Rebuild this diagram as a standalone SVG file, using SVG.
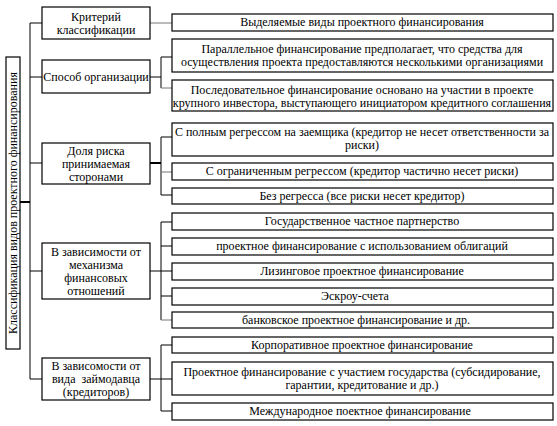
<svg xmlns="http://www.w3.org/2000/svg" width="557" height="426" viewBox="0 0 557 426">
<style>
.b{fill:#fff;stroke:#000;stroke-width:1.2}
.t{font-family:"Liberation Serif","Times New Roman",serif;font-size:12px;fill:#000}
.c{text-anchor:middle}
.l{fill:none;stroke:#000;stroke-width:1}
.g{fill:none;stroke:#777;stroke-width:1}
.k{fill:none;stroke:#000;stroke-width:2}
</style>
<rect width="557" height="426" fill="#fff"/>
<g id="connectors">
<path class="l" d="M30 23V379M30 23H42M30 77H42M30 163H42M30 271H42M30 379H42"/>
<path class="k" d="M19 202H30"/>
<path class="g" d="M150 23H172"/>
<path class="l" d="M150 77H161M161 57V88M161 57H172"/>
<path class="g" d="M161 88H172"/>
<path class="k" d="M150 163H161"/>
<path class="l" d="M161 137V195M161 137H172M161 195H172"/>
<path class="g" d="M161 172H172"/>
<path class="l" d="M150 271H172M161 222V320M161 222H172M161 246H172M161 296H172"/>
<path class="g" d="M161 320H172"/>
<path class="l" d="M150 379H172M161 345V411M161 345H172M161 411H172"/>
</g>
<g id="root"><rect class="b" x="6" y="57" width="14" height="292"/>
<text class="t c" transform="translate(17 203) rotate(-90)">Классификация видов проектного финансирования</text></g>
<g id="cat1"><rect class="b" x="42" y="7" width="108" height="32"/>
<text class="t c" x="96" y="20.5">Критерий</text><text class="t c" x="96" y="33.5">классификации</text></g>
<g id="cat2"><rect class="b" x="42" y="60" width="108" height="33"/>
<text class="t c" x="96" y="81">Способ организации</text></g>
<g id="cat3"><rect class="b" x="42" y="143" width="108" height="41"/>
<text class="t c" x="96" y="155">Доля риска</text><text class="t c" x="96" y="168">принимаемая</text><text class="t c" x="96" y="181">сторонами</text></g>
<g id="cat4"><rect class="b" x="42" y="243" width="108" height="56"/>
<text class="t c" x="96" y="255.5">В зависимости от</text><text class="t c" x="96" y="268.5">механизма</text><text class="t c" x="96" y="281.5">финансовых</text><text class="t c" x="96" y="294.5">отношений</text></g>
<g id="cat5"><rect class="b" x="42" y="358" width="108" height="42"/>
<text class="t c" x="96" y="370">В зависомости от</text><text class="t c" x="96" y="383" xml:space="preserve">вида  займодавца</text><text class="t c" x="96" y="396">(кредиторов)</text></g>
<g id="r1"><rect class="b" x="172" y="14" width="381" height="17"/>
<text class="t c" x="362" y="26">Выделяемые виды проектного финансирования</text></g>
<g id="r2"><rect class="b" x="172" y="39" width="381" height="33"/>
<text class="t c" x="362" y="53">Параллельное финансирование предполагает, что средства для</text><text class="t c" x="362" y="66">осуществления проекта предоставляются несколькими организациями</text></g>
<g id="r3"><rect class="b" x="172" y="80" width="381" height="31"/>
<text class="t c" x="362" y="94">Последовательное финансирование основано на участии в проекте</text><text class="t c" x="362" y="107">крупного инвестора, выступающего инициатором кредитного соглашения</text></g>
<g id="r4"><rect class="b" x="172" y="123" width="381" height="33"/>
<text class="t c" x="362" y="136">С полным регрессом на заемщика (кредитор не несет ответственности за</text><text class="t c" x="362" y="149">риски)</text></g>
<g id="r5"><rect class="b" x="172" y="163" width="381" height="17"/>
<text class="t c" x="362" y="175">С ограниченным регрессом (кредитор частично несет риски)</text></g>
<g id="r6"><rect class="b" x="172" y="188" width="381" height="16"/>
<text class="t c" x="362" y="200">Без регресса (все риски несет кредитор)</text></g>
<g id="r7"><rect class="b" x="172" y="213" width="381" height="17"/>
<text class="t c" x="362" y="225">Государственное частное партнерство</text></g>
<g id="r8"><rect class="b" x="172" y="238" width="381" height="17"/>
<text class="t c" x="362" y="250">проектное финансирование с использованием облигаций</text></g>
<g id="r9"><rect class="b" x="172" y="263" width="381" height="17"/>
<text class="t c" x="362" y="275">Лизинговое проектное финансирование</text></g>
<g id="r10"><rect class="b" x="172" y="288" width="381" height="17"/>
<text class="t c" x="355" y="300">Эскроу-счета</text></g>
<g id="r11"><rect class="b" x="172" y="312" width="381" height="16"/>
<text class="t c" x="356" y="324">банковское проектное финансирование и др.</text></g>
<g id="r12"><rect class="b" x="172" y="337" width="381" height="16"/>
<text class="t c" x="362" y="349">Корпоративное проектное финансирование</text></g>
<g id="r13"><rect class="b" x="172" y="362" width="381" height="33"/>
<text class="t c" x="362" y="376">Проектное финансирование с участием государства (субсидирование,</text><text class="t c" x="362" y="389">гарантии, кредитование и др.)</text></g>
<g id="r14"><rect class="b" x="172" y="403" width="381" height="17"/>
<text class="t c" x="360" y="415">Международное поектное финансирование</text></g>
</svg>
